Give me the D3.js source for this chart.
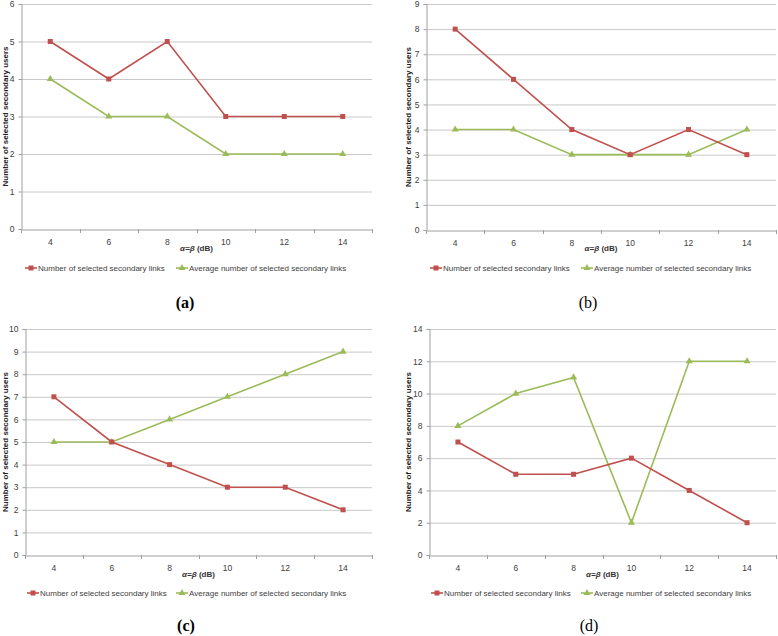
<!DOCTYPE html>
<html><head><meta charset="utf-8">
<script src="https://cdn.jsdelivr.net/npm/d3@7/dist/d3.min.js"></script>
<style>body{margin:0;background:#fff}svg{display:block}</style>
</head><body>
<script>
const categories = ["4","6","8","10","12","14"];
const redA = [5,4,5,3,3,3];
const greenA = [4,3,3,2,2,2];
const redB = [8,6,4,3,4,3];
const greenB = [4,4,3,3,3,4];
const redC = [7,5,4,3,3,2];
const greenC = [5,5,6,7,8,9];
const redD = [7,5,5,6,4,2];
const greenD = [8,10,11,2,12,12];
const yMaxes = [6,9,10,14];
const yTickStep = [1,1,1,2];
const captions = ["(a)","(b)","(c)","(d)"];
const seriesNames = ["Number of selected secondary links","Average number of selected secondary links"];
const yTitle = "Number of selected secondary users";

const RED = "#C0504D", GREEN = "#9BBB59";
const svg = d3.select("body").append("svg").attr("width",778).attr("height",636);

const panels = [
  {red:redA, green:greenA, ymax:yMaxes[0], step:yTickStep[0], cap:captions[0], x0:21, x1:372, yTop:4, yBot:229, ylab:5, legY:268, leg1:25, leg2:176, capX:185, capY:308, capW:"bold", titleY:251},
  {red:redB, green:greenB, ymax:yMaxes[1], step:yTickStep[1], cap:captions[1], x0:426, x1:776, yTop:4, yBot:230, ylab:408, legY:268, leg1:430, leg2:581, capX:588, capY:308, capW:"normal", titleY:251},
  {red:redC, green:greenC, ymax:yMaxes[2], step:yTickStep[2], cap:captions[2], x0:25, x1:372, yTop:329, yBot:555, ylab:5, legY:593, leg1:27, leg2:176, capX:186, capY:631, capW:"bold", titleY:577},
  {red:redD, green:greenD, ymax:yMaxes[3], step:yTickStep[3], cap:captions[3], x0:429, x1:776, yTop:329, yBot:555, ylab:408, legY:593, leg1:431, leg2:581, capX:589, capY:631, capW:"normal", titleY:577}
];

panels.forEach(p => {
  const g = svg.append("g");
  const x = d3.scaleBand().domain(categories).range([p.x0, p.x1]);
  const y = d3.scaleLinear().domain([0, p.ymax]).range([p.yBot, p.yTop]);
  const ticks = d3.range(0, p.ymax + 0.001, p.step);

  // gridlines
  g.append("g").selectAll("line").data(ticks.filter(t=>t>0)).join("line")
    .attr("x1", p.x0).attr("x2", p.x1)
    .attr("y1", d=>y(d)+0.5).attr("y2", d=>y(d)+0.5)
    .attr("stroke", "#c8c8c8").attr("stroke-width", 1);

  // y axis
  const ya = g.append("g").attr("transform", `translate(${p.x0+0.5},0)`)
    .call(d3.axisLeft(y).tickValues(ticks).tickSize(3).tickPadding(4).tickFormat(d3.format("d")));
  ya.select(".domain").attr("stroke","#a0a0a0");
  ya.selectAll(".tick line").attr("stroke","#a0a0a0");
  ya.selectAll("text").attr("font-family","Liberation Sans, Arial, sans-serif").attr("font-size","8.5px").attr("fill","#404040");

  // x axis
  const xa = g.append("g").attr("transform", `translate(0,${p.yBot+0.5})`)
    .call(d3.axisBottom(x).tickSize(0).tickPadding(9));
  xa.select(".domain").attr("stroke","#a0a0a0");
  xa.selectAll("text").attr("font-family","Liberation Sans, Arial, sans-serif").attr("font-size","8.5px").attr("fill","#404040");
  // boundary tick marks
  const bounds = categories.map(c=>x(c)).concat([p.x1]);
  g.append("g").selectAll("line").data(bounds).join("line")
    .attr("x1", d=>Math.round(d)+0.5).attr("x2", d=>Math.round(d)+0.5)
    .attr("y1", p.yBot).attr("y2", p.yBot+4)
    .attr("stroke","#a0a0a0");

  // x title
  const t = g.append("text").attr("x", (p.x0+p.x1)/2).attr("y", p.titleY)
    .attr("text-anchor","middle").attr("font-family","Liberation Sans, Arial, sans-serif")
    .attr("font-size","8px").attr("font-weight","bold").attr("fill","#333");
  t.append("tspan").attr("font-style","italic").text("α=β");
  t.append("tspan").text(" (dB)");

  // y title
  g.append("text").attr("transform", `translate(${p.ylab+3},${(p.yTop+p.yBot)/2}) rotate(-90)`)
    .attr("text-anchor","middle").attr("font-family","Liberation Sans, Arial, sans-serif")
    .attr("font-size","8px").attr("font-weight","bold").attr("fill","#222").text(yTitle);

  const cx = (d,i) => x(categories[i]) + x.bandwidth()/2;
  const line = d3.line().x((d,i)=>cx(d,i)).y(d=>y(d));

  // green series
  g.append("path").datum(p.green).attr("d", line).attr("fill","none").attr("stroke",GREEN).attr("stroke-width",1.6);
  g.append("g").selectAll("path").data(p.green).join("path")
    .attr("d", d3.symbol(d3.symbolTriangle, 22))
    .attr("transform",(d,i)=>`translate(${cx(d,i)},${y(d)})`).attr("fill",GREEN);
  // red series
  g.append("path").datum(p.red).attr("d", line).attr("fill","none").attr("stroke",RED).attr("stroke-width",1.6);
  g.append("g").selectAll("rect").data(p.red).join("rect")
    .attr("x",(d,i)=>cx(d,i)-2.5).attr("y",d=>y(d)-2.5).attr("width",5).attr("height",5).attr("fill",RED);

  // legend
  [[p.leg1, RED, "sq", seriesNames[0]],[p.leg2, GREEN, "tri", seriesNames[1]]].forEach(([lx,col,sym,name])=>{
    g.append("line").attr("x1",lx).attr("x2",lx+12).attr("y1",p.legY).attr("y2",p.legY).attr("stroke",col).attr("stroke-width",1.6);
    if (sym==="sq") g.append("rect").attr("x",lx+3.5).attr("y",p.legY-2.5).attr("width",5).attr("height",5).attr("fill",col);
    else g.append("path").attr("d", d3.symbol(d3.symbolTriangle,20)).attr("transform",`translate(${lx+6},${p.legY})`).attr("fill",col);
    g.append("text").attr("x",lx+13).attr("y",p.legY+3).attr("font-family","Liberation Sans, Arial, sans-serif")
      .attr("font-size","8px").attr("fill","#404040").text(name);
  });

  // caption
  g.append("text").attr("x",p.capX).attr("y",p.capY).attr("text-anchor","middle")
    .attr("font-family","Liberation Serif, Times New Roman, serif").attr("font-size","16px")
    .attr("font-weight",p.capW).attr("fill","#000").text(p.cap);
});
</script>
</body></html>
